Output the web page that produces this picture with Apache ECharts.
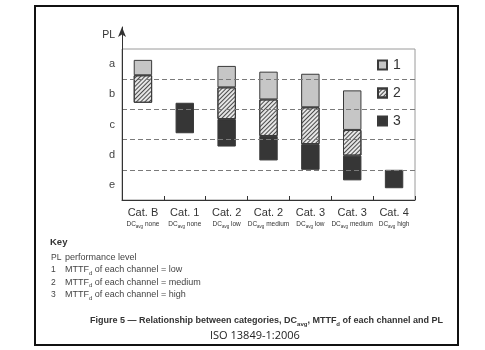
<!DOCTYPE html>
<html>
<head>
<meta charset="utf-8">
<script src="https://cdn.jsdelivr.net/npm/echarts@6/dist/echarts.min.js"></script>
<style>
  html, body { margin: 0; padding: 0; background: #fff; }
  #chart { width: 485px; height: 350px; }
</style>
</head>
<body>
<div id="chart"></div>
<script>
// ---- data ----
var categories = ['Cat. B', 'Cat. 1', 'Cat. 2', 'Cat. 2', 'Cat. 3', 'Cat. 3', 'Cat. 4'];
var dcLevels = ['none', 'none', 'low', 'medium', 'low', 'medium', 'high'];
var plLabels = ['e', 'd', 'c', 'b', 'a'];            // PL bands, bottom to top (each band = 1 unit)
var legendNames = ['1', '2', '3'];
// [bottom, top] of each segment on the PL scale (e = 0..1, ..., a = 4..5)
var mttfLow    = [[4.13, 4.64], null, [3.73, 4.44], [3.33, 4.25], [3.07, 4.18], [2.32, 3.63], null];
var mttfMedium = [[3.22, 4.13], null, [2.68, 3.73], [2.12, 3.33], [1.85, 3.07], [1.47, 2.32], null];
var mttfHigh   = [null, [2.21, 3.22], [1.77, 2.68], [1.31, 2.12], [1.00, 1.85], [0.65, 1.47], [0.39, 1.00]];
var keyCodes = ['PL', '1', '2', '3'];
var keyTexts = ['performance level', 'MTTF|d| of each channel = low', 'MTTF|d| of each channel = medium', 'MTTF|d| of each channel = high'];
var captionText = 'Figure 5 \u2014 Relationship between categories, DC|avg|, MTTF|d| of each channel and PL';
var sourceText = 'ISO 13849-1:2006';

// ---- derived stacking (transparent base + segment heights) ----
var catKeys = categories.map(function (c, i) { return c + '\n' + dcLevels[i]; });
var base = [], hHigh = [], hMed = [], hLow = [];
for (var i = 0; i < categories.length; i++) {
  var bottoms = [mttfHigh[i], mttfMedium[i], mttfLow[i]].filter(Boolean).map(function (r) { return r[0]; });
  base.push(Math.min.apply(null, bottoms));
  hHigh.push(mttfHigh[i] ? +(mttfHigh[i][1] - mttfHigh[i][0]).toFixed(3) : '-');
  hMed.push(mttfMedium[i] ? +(mttfMedium[i][1] - mttfMedium[i][0]).toFixed(3) : '-');
  hLow.push(mttfLow[i] ? +(mttfLow[i][1] - mttfLow[i][0]).toFixed(3) : '-');
}

// text with |sub| markers -> rich string
function richSub(s, main, sub) {
  var parts = s.split('|');
  return parts.map(function (p, k) {
    if (!p) return '';
    return '{' + (k % 2 ? sub : main) + '|' + p + '}';
  }).join('');
}

var FONT = '"Liberation Sans", Arial, sans-serif';
var border = '#3a3a3a';

var chart = echarts.init(document.getElementById('chart'), null, { renderer: 'canvas' });
chart.setOption({
  backgroundColor: '#fff',
  animation: false,
  textStyle: { fontFamily: FONT },
  grid: [
    { left: 122, right: 70, top: 49, bottom: 150, show: true, borderColor: '#9a9a9a', borderWidth: 1, backgroundColor: 'transparent' },
    { left: 122, right: 70, top: 27, bottom: 150 }
  ],
  xAxis: [
    {
      gridIndex: 0, type: 'category', data: catKeys, z: 5,
      axisLine: { lineStyle: { color: '#333', width: 1 } },
      axisTick: { show: true, inside: true, length: 4, interval: 0, lineStyle: { color: '#333' } },
      axisLabel: {
        interval: 0, margin: 6, color: '#333', fontFamily: FONT,
        formatter: function (v) {
          var p = v.split('\n');
          return '{cat|' + p[0] + '}\n{dc|DC}{sub|avg}{dc| ' + p[1] + '}';
        },
        rich: {
          cat: { fontSize: 11, lineHeight: 13, color: '#333', fontFamily: FONT },
          dc: { fontSize: 6.5, lineHeight: 10, color: '#333', fontFamily: FONT, verticalAlign: 'middle' },
          sub: { fontSize: 4.5, lineHeight: 5, color: '#333', fontFamily: FONT, verticalAlign: 'bottom' }
        }
      }
    },
    { gridIndex: 1, type: 'category', show: false, data: catKeys }
  ],
  yAxis: [
    {
      gridIndex: 0, type: 'value', min: 0, max: 5, interval: 1, z: 5,
      axisLine: { show: true, lineStyle: { color: '#333', width: 1 } },
      axisTick: { show: false },
      axisLabel: { show: false },
      splitLine: { show: true, showMinLine: false, showMaxLine: false, lineStyle: { color: '#7a7a7a', type: [5, 3], width: 1 } }
    },
    {
      gridIndex: 0, type: 'category', data: plLabels, position: 'left',
      axisLine: { show: false }, axisTick: { show: false }, splitLine: { show: false },
      axisLabel: { color: '#444', fontSize: 11, margin: 7, fontFamily: FONT }
    },
    {
      gridIndex: 1, type: 'value', min: 0, max: 1, z: 5,
      axisLine: { show: true, symbol: ['none', 'arrow'], symbolSize: [6, 10], symbolOffset: [0, 0], lineStyle: { color: '#333', width: 1 } },
      axisTick: { show: false }, axisLabel: { show: false }, splitLine: { show: false },
      name: 'PL', nameLocation: 'end', nameGap: -8,
      nameTextStyle: { color: '#333', fontSize: 10.5, align: 'right', verticalAlign: 'middle', padding: [0, 7, 0, 0], fontFamily: FONT }
    }
  ],
  legend: {
    data: legendNames, orient: 'vertical', left: 377, top: 58, itemWidth: 9, itemHeight: 9, itemGap: 14,
    icon: 'rect', padding: 0, selectedMode: false,
    textStyle: { fontSize: 14, color: '#333', fontFamily: FONT, padding: [0, 0, 0, 1] }
  },
  series: [
    {
      name: 'base', type: 'bar', stack: 'pl', data: base, barWidth: '44%', silent: true,
      itemStyle: { color: 'transparent', borderWidth: 0 }
    },
    {
      name: '3', type: 'bar', stack: 'pl', data: hHigh,
      itemStyle: { color: '#363636', borderColor: border, borderWidth: 1 }
    },
    {
      name: '2', type: 'bar', stack: 'pl', data: hMed,
      itemStyle: {
        color: '#e6e6e6', borderColor: border, borderWidth: 1,
        decal: { symbol: 'rect', symbolSize: 1, dashArrayX: [1, 0], dashArrayY: [1, 2], rotation: -Math.PI / 4, color: '#4a4a4a' }
      }
    },
    {
      name: '1', type: 'bar', stack: 'pl', data: hLow,
      itemStyle: { color: '#c6c6c6', borderColor: border, borderWidth: 1 }
    }
  ],
  title: [
    { text: 'Key', left: 50, top: 237, padding: 0, textStyle: { fontSize: 9.5, fontWeight: 'bold', color: '#333', fontFamily: FONT } },
    {
      text: keyCodes.join('\n'), left: 51, top: 251, padding: 0,
      textStyle: { fontSize: 8.5, lineHeight: 12.5, fontWeight: 'normal', color: '#444', fontFamily: FONT }
    },
    {
      text: keyTexts.map(function (t) { return richSub(t, 'k', 'ks'); }).join('\n'), left: 65, top: 251, padding: 0,
      textStyle: {
        fontFamily: FONT, fontWeight: 'normal',
        rich: {
          k: { fontSize: 9, lineHeight: 12.5, fontWeight: 'normal', color: '#444', fontFamily: FONT, verticalAlign: 'middle' },
          ks: { fontSize: 6, lineHeight: 7, fontWeight: 'normal', color: '#444', fontFamily: FONT, verticalAlign: 'bottom' }
        }
      }
    },
    {
      text: richSub(captionText, 'c', 'cs'), left: 90, top: 315, padding: 0,
      textStyle: {
        fontFamily: FONT,
        rich: {
          c: { fontSize: 9, lineHeight: 12, fontWeight: 'bold', color: '#333', fontFamily: FONT, verticalAlign: 'middle' },
          cs: { fontSize: 6, lineHeight: 7, fontWeight: 'bold', color: '#333', fontFamily: FONT, verticalAlign: 'bottom' }
        }
      }
    },
    { text: sourceText, top: 330, padding: 0, left: 210, textStyle: { fontSize: 11, fontWeight: 'normal', color: '#222', fontFamily: '"Open Sans", sans-serif' } }
  ],
  graphic: [
    { type: 'rect', shape: { x: 35, y: 6, width: 423, height: 339 }, style: { fill: 'none', stroke: '#111', lineWidth: 2 }, silent: true, z: 100 }
  ]
});
</script>
</body>
</html>
